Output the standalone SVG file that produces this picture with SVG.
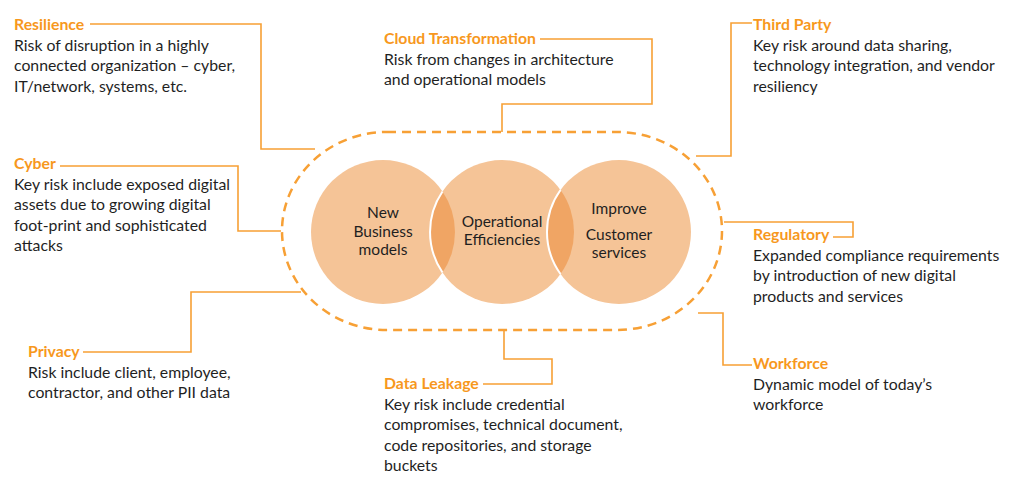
<svg xmlns="http://www.w3.org/2000/svg" width="1024" height="489" viewBox="0 0 1024 489">
<style>
.t{font-family:Lato,"Open Sans","Liberation Sans",sans-serif;font-size:15.8px;font-weight:700;fill:#F7981D}
.b{font-family:Lato,"Open Sans","Liberation Sans",sans-serif;font-size:15.8px;fill:#1f1f1f}
.c{font-family:Lato,"Open Sans","Liberation Sans",sans-serif;font-size:15.5px;fill:#1f1f1f;text-anchor:middle}
.ln{fill:none;stroke:#F7A035;stroke-width:1.6}
.pill{fill:none;stroke:#F7A035;stroke-width:2.5;stroke-dasharray:9 6}
.circ{fill:#F5C497}
.lens{fill:#F0A564}
.wa{fill:none;stroke:#ffffff;stroke-width:2}
</style>
<rect width="1024" height="489" fill="#ffffff"/>
<g id="connectors">
<polyline class="ln" points="90,24 261,24 261,149 315,149"/>
<polyline class="ln" points="60,166 238,166 238,231 281,231"/>
<polyline class="ln" points="540,39 652,39 652,104 502,104 502,132"/>
<polyline class="ln" points="752,23 731,23 731,156 696,156"/>
<polyline class="ln" points="833,237 853,237 853,222 724,222"/>
<polyline class="ln" points="698,313 723,313 723,365 752,365"/>
<polyline class="ln" points="483,384 552,384 552,359 504,359 504,331"/>
<polyline class="ln" points="83,352 191,352 191,292 301,292"/>
</g>
<g id="boundary">
<rect class="pill" x="282" y="132" width="440" height="198" rx="105" ry="99"/>
</g>
<g id="node-new-business">
<circle class="circ" cx="383" cy="232" r="72"/>
</g>
<g id="node-operational">
<circle class="circ" cx="502" cy="232" r="72"/>
</g>
<g id="node-customer">
<circle class="circ" cx="619" cy="232" r="72"/>
</g>
<g id="overlaps">
<path class="lens" d="M442.5,191.5 A72,72 0 0 1 442.5,272.5 A72,72 0 0 1 442.5,191.5 Z"/>
<path class="lens" d="M560.5,190 A72,72 0 0 1 560.5,274 A72,72 0 0 1 560.5,190 Z"/>
<path class="wa" d="M442.5,191.5 A72,72 0 0 0 442.5,272.5"/>
<path class="wa" d="M560.5,190 A72,72 0 0 0 560.5,274"/>
</g>
<g id="labels-circles">
<text class="c" x="383" y="218">New</text>
<text class="c" x="383" y="237">Business</text>
<text class="c" x="383" y="255">models</text>
<text class="c" x="502" y="227">Operational</text>
<text class="c" x="502" y="245">Efficiencies</text>
<text class="c" x="619" y="214">Improve</text>
<text class="c" x="619" y="240">Customer</text>
<text class="c" x="619" y="258">services</text>
</g>
<g id="node-resilience">
<text class="t" x="14" y="30">Resilience</text>
<text class="b" x="14" y="50.5">Risk of disruption in a highly</text>
<text class="b" x="14" y="71">connected organization – cyber,</text>
<text class="b" x="14" y="91.5">IT/network, systems, etc.</text>
</g>
<g id="node-cyber">
<text class="t" x="14" y="169">Cyber</text>
<text class="b" x="14" y="189.5">Key risk include exposed digital</text>
<text class="b" x="14" y="210">assets due to growing digital</text>
<text class="b" x="14" y="230.5">foot-print and sophisticated</text>
<text class="b" x="14" y="251">attacks</text>
</g>
<g id="node-cloud">
<text class="t" x="384" y="44">Cloud Transformation</text>
<text class="b" x="384" y="64.5">Risk from changes in architecture</text>
<text class="b" x="384" y="85">and operational models</text>
</g>
<g id="node-third-party">
<text class="t" x="753" y="30">Third Party</text>
<text class="b" x="753" y="50.5">Key risk around data sharing,</text>
<text class="b" x="753" y="71">technology integration, and vendor</text>
<text class="b" x="753" y="91.5">resiliency</text>
</g>
<g id="node-regulatory">
<text class="t" x="753" y="240">Regulatory</text>
<text class="b" x="753" y="260.5">Expanded compliance requirements</text>
<text class="b" x="753" y="281">by introduction of new digital</text>
<text class="b" x="753" y="301.5">products and services</text>
</g>
<g id="node-workforce">
<text class="t" x="753" y="369">Workforce</text>
<text class="b" x="753" y="389.5">Dynamic model of today’s</text>
<text class="b" x="753" y="410">workforce</text>
</g>
<g id="node-data-leakage">
<text class="t" x="384" y="389">Data Leakage</text>
<text class="b" x="384" y="409.5">Key risk include credential</text>
<text class="b" x="384" y="430">compromises, technical document,</text>
<text class="b" x="384" y="450.5">code repositories, and storage</text>
<text class="b" x="384" y="471">buckets</text>
</g>
<g id="node-privacy">
<text class="t" x="28" y="357">Privacy</text>
<text class="b" x="28" y="377.5">Risk include client, employee,</text>
<text class="b" x="28" y="398">contractor, and other PII data</text>
</g>
</svg>
